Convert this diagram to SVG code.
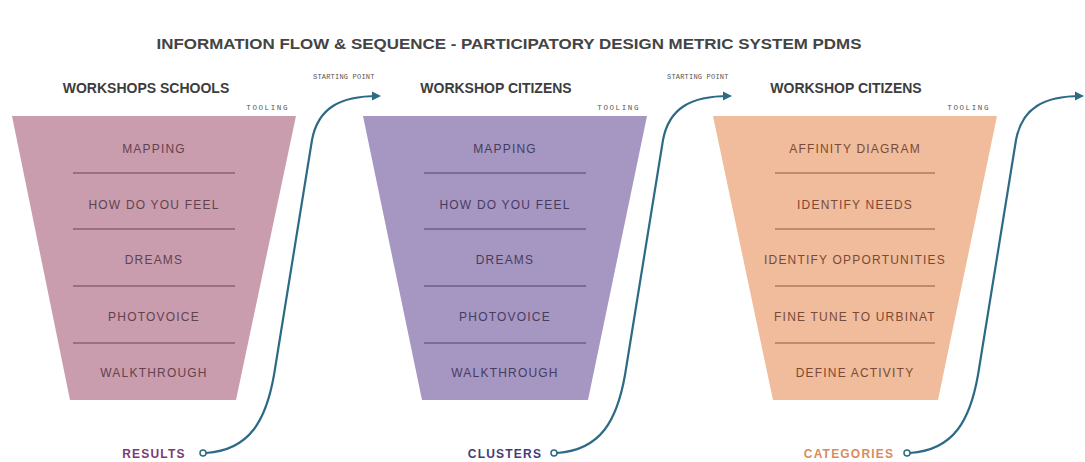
<svg xmlns="http://www.w3.org/2000/svg" width="1085" height="462" viewBox="0 0 1085 462">
<style>
.title{font-family:"Liberation Sans",Arial,sans-serif;font-weight:bold;font-size:15px;fill:#444;}
.hdr{font-family:"Liberation Sans",Arial,sans-serif;font-weight:bold;font-size:14px;fill:#3d3d3d;text-anchor:middle;}
.mono{font-family:"Liberation Mono","DejaVu Sans Mono",monospace;font-size:7.5px;fill:#555;letter-spacing:1.6px;}
.sp{font-size:7px;letter-spacing:0.2px;}
.item{font-family:"Liberation Sans",Arial,sans-serif;font-size:12px;letter-spacing:1.2px;text-anchor:middle;}
.f1 .item{fill:#62424f;} .f2 .item{fill:#463c60;} .f3 .item{fill:#7a4a36;}
.f1 line{stroke:#8a6272;} .f2 line{stroke:#6c5c8c;} .f3 line{stroke:#b07a60;}
line{stroke-width:1.4;}
.lbl{font-family:"Liberation Sans",Arial,sans-serif;font-weight:bold;font-size:12px;letter-spacing:1.2px;text-anchor:middle;}
.conn path{fill:none;stroke:#2c6a86;stroke-width:2.2;}
.conn circle{fill:#fff;stroke:#2c6a86;stroke-width:1.5;}
</style>
<defs>
<marker id="ah" markerUnits="userSpaceOnUse" markerWidth="11" markerHeight="11" refX="6" refY="5.5" orient="auto">
<path d="M0,1 L9,5.5 L0,10 z" fill="#2c6a86"/>
</marker>
</defs>
<rect width="1085" height="462" fill="#fff"/>
<text class="title" x="509" y="49" text-anchor="middle" textLength="705" lengthAdjust="spacingAndGlyphs">INFORMATION FLOW &amp; SEQUENCE  - PARTICIPATORY DESIGN METRIC SYSTEM PDMS</text>

<g id="funnel-schools" class="f1">
<text class="hdr" x="146" y="93">WORKSHOPS SCHOOLS</text>
<text class="mono" x="289" y="110" text-anchor="end">TOOLING</text>
<polygon points="12,116 296,116 236,400 70,400" fill="#c99dad"/>
<line x1="73" y1="173" x2="235" y2="173"/><line x1="73" y1="229" x2="235" y2="229"/>
<line x1="73" y1="286" x2="235" y2="286"/><line x1="73" y1="343" x2="235" y2="343"/>
<text class="item" x="154" y="153">MAPPING</text>
<text class="item" x="154" y="209">HOW DO YOU FEEL</text>
<text class="item" x="154" y="264">DREAMS</text>
<text class="item" x="154" y="321">PHOTOVOICE</text>
<text class="item" x="154" y="377">WALKTHROUGH</text>
</g>

<g id="funnel-citizens-1" class="f2">
<text class="mono sp" x="313" y="79">STARTING POINT</text>
<text class="hdr" x="496" y="93">WORKSHOP CITIZENS</text>
<text class="mono" x="640" y="110" text-anchor="end">TOOLING</text>
<polygon points="363,116 647,116 588,400 422,400" fill="#a696c2"/>
<line x1="424" y1="173" x2="586" y2="173"/><line x1="424" y1="229" x2="586" y2="229"/>
<line x1="424" y1="286" x2="586" y2="286"/><line x1="424" y1="343" x2="586" y2="343"/>
<text class="item" x="505" y="153">MAPPING</text>
<text class="item" x="505" y="209">HOW DO YOU FEEL</text>
<text class="item" x="505" y="264">DREAMS</text>
<text class="item" x="505" y="321">PHOTOVOICE</text>
<text class="item" x="505" y="377">WALKTHROUGH</text>
</g>

<g id="funnel-citizens-2" class="f3">
<text class="mono sp" x="667" y="79">STARTING POINT</text>
<text class="hdr" x="846" y="93">WORKSHOP CITIZENS</text>
<text class="mono" x="990" y="110" text-anchor="end">TOOLING</text>
<polygon points="713,116 997,116 938,400 773,400" fill="#f0bc9b"/>
<line x1="775" y1="173" x2="935" y2="173"/><line x1="775" y1="229" x2="935" y2="229"/>
<line x1="775" y1="286" x2="935" y2="286"/><line x1="775" y1="343" x2="935" y2="343"/>
<text class="item" x="855" y="153">AFFINITY DIAGRAM</text>
<text class="item" x="855" y="209">IDENTIFY NEEDS</text>
<text class="item" x="855" y="264">IDENTIFY OPPORTUNITIES</text>
<text class="item" x="855" y="321">FINE TUNE TO URBINAT</text>
<text class="item" x="855" y="377">DEFINE ACTIVITY</text>
</g>

<g id="label-results"><text class="lbl" x="154" y="458" fill="#7e3a72">RESULTS</text></g>
<g id="label-clusters"><text class="lbl" x="505" y="458" fill="#463c78">CLUSTERS</text></g>
<g id="label-categories"><text class="lbl" x="849" y="458" fill="#d98c5c">CATEGORIES</text></g>

<g id="connectors" class="conn">
<path d="M206,453 C250,450 266,420 274,375 L312,140 C318,108 340,96 378,96" marker-end="url(#ah)"/>
<circle cx="203" cy="453" r="3"/>
<path d="M557,453 C601,450 617,420 625,375 L663,140 C669,108 691,96 729,96" marker-end="url(#ah)"/>
<circle cx="554" cy="453" r="3"/>
<path d="M910,453 C954,450 970,420 978,375 L1016,140 C1022,108 1044,96 1081,96" marker-end="url(#ah)"/>
<circle cx="907" cy="453" r="3"/>
</g>
</svg>
